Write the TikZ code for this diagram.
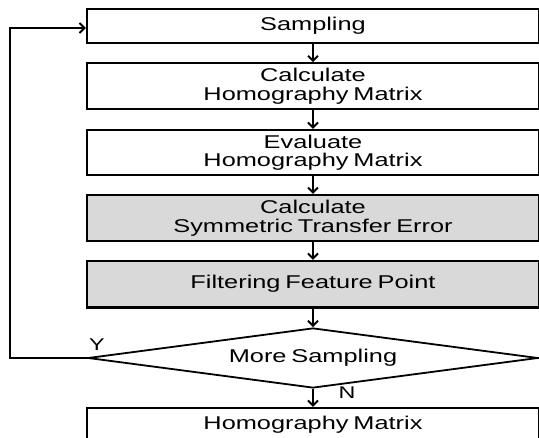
\documentclass[tikz,border=0pt]{standalone}
\usepackage{fontspec}
\setmainfont{Liberation Sans}[FakeStretch=1.37,WordSpace=0.7]
\usetikzlibrary{shapes.geometric,arrows.meta}
\definecolor{boxgray}{HTML}{D9D9D9}
\tikzset{
  flowbox/.style={draw=black,line width=2.2pt,fill=white,minimum width=452pt,inner sep=0pt,align=center,font=\fontsize{18.5pt}{18.3pt}\selectfont},
  graybox/.style={flowbox,fill=boxgray},
  decision/.style={draw=black,line width=1.8pt,fill=white,shape=diamond,aspect=7.5,minimum width=450pt,minimum height=60pt,inner sep=0pt,font=\fontsize{18.5pt}{18.3pt}\selectfont},
  arr/.style={line width=2pt,-{Straight Barb[length=5pt,width=10pt,line width=2pt]}},
  lbl/.style={font=\fontsize{17pt}{17pt}\selectfont,inner sep=0pt}
}
\begin{document}
\begin{tikzpicture}[x=1pt,y=-1pt]
\clip (0,0) rectangle (539,438);
\fill[white] (0,0) rectangle (539,438);
\node[flowbox,minimum height=33.4pt] (b1) at (313,26) {Sampling};
\node[flowbox,minimum height=46pt] (b2) at (313,86.3) {Calculate\\Homography Matrix};
\node[flowbox,minimum height=45pt] (b3) at (313,152.5) {Evaluate\\Homography Matrix};
\node[graybox,minimum height=46.3pt] (b4) at (313,218.2) {Calculate\\Symmetric Transfer Error};
\node[graybox,minimum height=46.5pt] (b5) at (313,284.2) {Filtering Feature Point};
\node[decision] (d) at (313,358) {More Sampling};
\node[flowbox,minimum height=34pt] (b6) at (313,425) {Homography Matrix};
\draw[arr] (b1) -- (b2);
\draw[arr] (b2) -- (b3);
\draw[arr] (b3) -- (b4);
\draw[arr] (b4) -- (b5);
\draw[arr] (b5) -- (d);
\draw[arr] (d) -- (b6);
\coordinate (loopc) at (10,358);
\draw[arr] (d.west) -- (loopc) |- ([yshift=-2pt]b1.west);
\node[lbl] (y) at (97,345) {Y};
\node[lbl] (n) at (347,393) {N};
\end{tikzpicture}
\end{document}
